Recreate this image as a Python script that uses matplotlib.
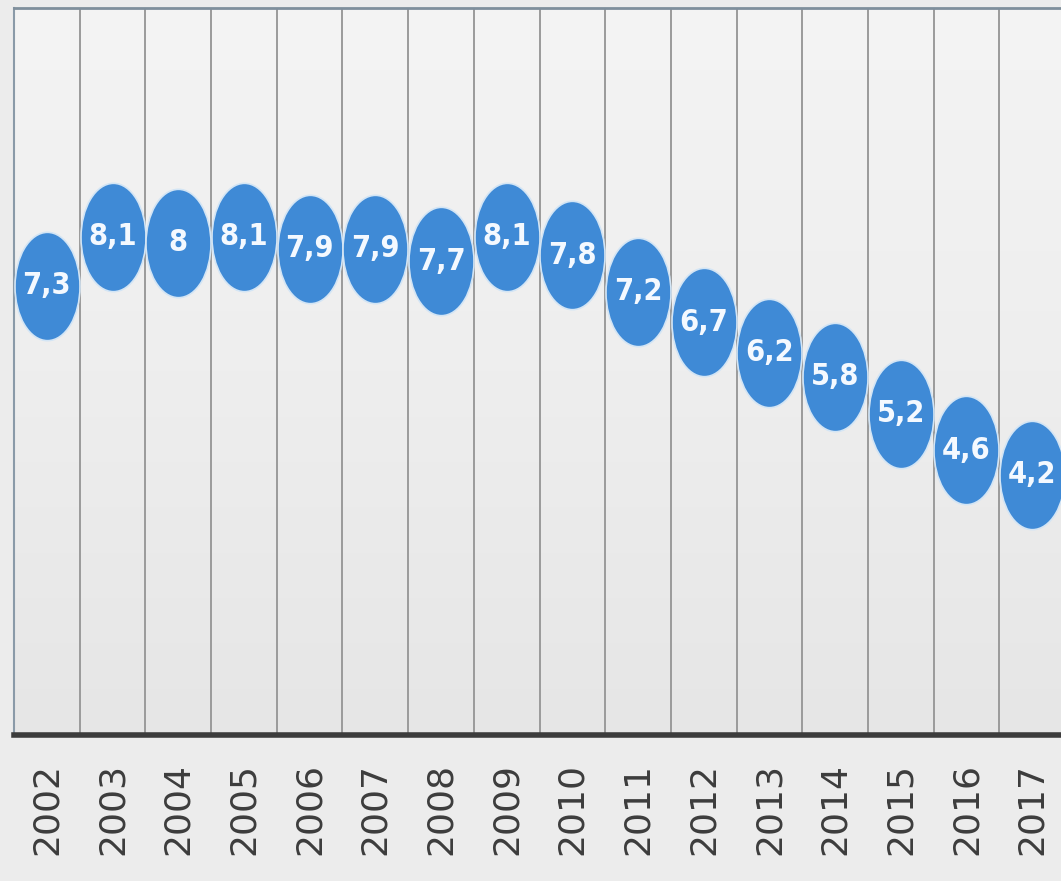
import numpy as np
import matplotlib
matplotlib.use("Agg")
import matplotlib.pyplot as plt
from matplotlib.path import Path
from matplotlib.transforms import Affine2D
from matplotlib.colors import LinearSegmentedColormap

years = ["2002", "2003", "2004", "2005", "2006", "2007", "2008", "2009",
         "2010", "2011", "2012", "2013", "2014", "2015", "2016", "2017"]
values = [7.3, 8.1, 8.0, 8.1, 7.9, 7.9, 7.7, 8.1, 7.8, 7.2, 6.7, 6.2, 5.8, 5.2, 4.6, 4.2]
labels = ["7,3", "8,1", "8", "8,1", "7,9", "7,9", "7,7", "8,1", "7,8", "7,2",
          "6,7", "6,2", "5,8", "5,2", "4,6", "4,2"]

W, H = 1061, 881
fig = plt.figure(figsize=(W / 100, H / 100), dpi=100)
fig.patch.set_facecolor("#ececec")

left, right_px, top_px, axis_px = 14, 1065, 8, 735
ax = fig.add_axes([left / W, (H - axis_px) / H, (right_px - left) / W, (axis_px - top_px) / H])

x = np.arange(len(years))
ax.set_xlim(-0.5, len(years) - 0.5)
ax.set_ylim(-0.07, 11.85)

# background gradient
grad = np.linspace(0, 1, 256).reshape(-1, 1)
cmap = LinearSegmentedColormap.from_list("bg", ["#e6e6e6", "#eeeeee", "#f4f4f4"])
ax.imshow(grad, aspect="auto", cmap=cmap, origin="lower",
          extent=[-0.5, len(years) - 0.5, -0.07, 11.85], zorder=0)

# vertical separators
ax.set_xticks(np.arange(-0.5, len(years), 1), minor=True)
ax.grid(which="minor", axis="x", color="#9a9a9a", linewidth=1.4, zorder=1)
ax.tick_params(which="minor", length=0)

ell = Path.unit_circle().transformed(Affine2D().scale(0.6, 1.0))
ax.plot(x, values, linestyle="none", marker=ell, markersize=78,
        markerfacecolor="#3f8ad6", markeredgecolor="#d3e5f5", markeredgewidth=1.2,
        zorder=3)

for xi, v, lab in zip(x, values, labels):
    ax.text(xi, v, lab, ha="center", va="center", color="#f4f9ff",
            fontsize=22, fontweight="bold", fontstretch="condensed",
            family=["DejaVu Sans"], zorder=4)

ax.set_xticks(x)
ax.set_xticklabels(years, rotation=90, fontsize=26, color="#3c3c3c",
                   family="DejaVu Sans")
ax.tick_params(axis="x", which="major", length=0, pad=20)
ax.set_yticks([])

ax.spines["right"].set_visible(False)
ax.spines["bottom"].set_color("#3c3c3c")
ax.spines["bottom"].set_linewidth(4)
ax.spines["left"].set_color("#8a9aa8")
ax.spines["left"].set_linewidth(1.5)
ax.spines["top"].set_color("#7f8f9c")
ax.spines["top"].set_linewidth(2)

fig.savefig("out.png", dpi=100, facecolor=fig.get_facecolor())
